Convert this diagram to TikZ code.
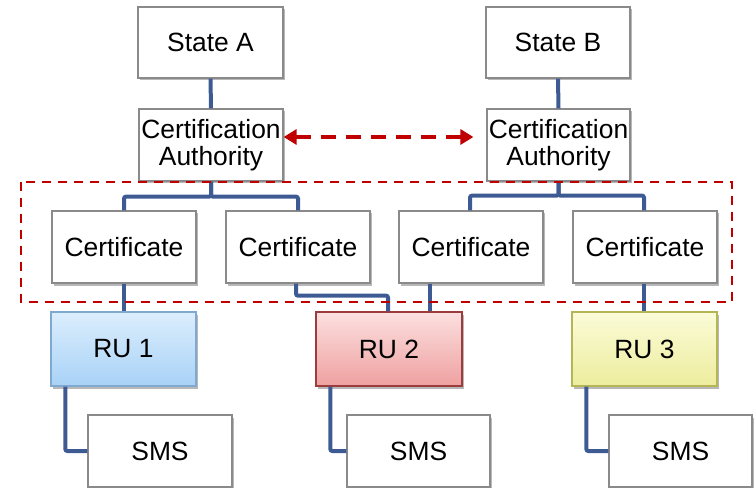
\documentclass[tikz,border=0pt]{standalone}
\usepackage{fontspec}
\setmainfont{Liberation Sans}
\usetikzlibrary{arrows.meta,shadows}
\definecolor{linkblue}{HTML}{3D5A93}
\definecolor{boxgray}{HTML}{8A8A8A}
\definecolor{dred}{HTML}{C00000}
\definecolor{ruAtop}{HTML}{DCEEFD}
\definecolor{ruAbot}{HTML}{A8D2F7}
\definecolor{ruAdraw}{HTML}{7FA9CF}
\definecolor{ruBtop}{HTML}{FCE0E0}
\definecolor{ruBbot}{HTML}{EFA0A0}
\definecolor{ruBdraw}{HTML}{9C3C3C}
\definecolor{ruCtop}{HTML}{FBFBD8}
\definecolor{ruCbot}{HTML}{EDED9E}
\definecolor{ruCdraw}{HTML}{B5B555}
\tikzset{
  box/.style={draw=boxgray, line width=1.3bp, fill=white, rectangle,
    minimum width=144bp, minimum height=72bp, inner sep=0pt, align=center,
    font=\fontsize{26.4bp}{27bp}\selectfont,
    drop shadow={shadow xshift=2bp, shadow yshift=-2.5bp, opacity=0.28, fill=black}},
  rubox/.style={box, minimum width=145bp, minimum height=74bp},
  link/.style={draw=linkblue, line width=4bp, rounded corners=2bp},
  grpframe/.style={draw=dred, line width=2.6bp, dash pattern=on 9bp off 7bp},
  peer/.style={draw=dred, line width=4bp, dash pattern=on 15bp off 10bp,
    {Triangle[length=13bp,width=15bp]}-{Triangle[length=13bp,width=15bp]}}
}
\begin{document}
\begin{tikzpicture}[x=1bp,y=-1bp]
\useasboundingbox (0,0) rectangle (756,488);
% connectors (behind boxes)
\node[box, minimum width=145bp, minimum height=71bp] (sA) at (210.5,42.5) {State A};
\node[box, minimum height=71bp] (sB) at (558,42.5) {State B};
\node[box] (caA) at (211,145) {Certification\\Authority};
\node[box, minimum width=143bp] (caB) at (558.5,145) {Certification\\Authority};
\node[box] (c1) at (124,247) {Certificate};
\node[box] (c2) at (298,247) {Certificate};
\node[box] (c3) at (471,247) {Certificate};
\node[box] (c4) at (645,247) {Certificate};
\node[rubox, draw=ruAdraw, top color=ruAtop, bottom color=ruAbot] (ru1) at (123.5,349) {RU 1};
\node[rubox, minimum width=146bp, draw=ruBdraw, top color=ruBtop, bottom color=ruBbot] (ru2) at (389,349) {RU 2};
\node[rubox, draw=ruCdraw, top color=ruCtop, bottom color=ruCbot] (ru3) at (644.5,349) {RU 3};
\node[box] (sms1) at (160,451) {SMS};
\node[box, minimum width=143bp] (sms2) at (418.5,451) {SMS};
\node[box, minimum width=143bp] (sms3) at (680.5,451) {SMS};
% links
\draw[link] (sA.south) -- (caA.north);
\draw[link] (sB.south) -- (caB.north);
\draw[link] (caA.south) -- ++(0,15) -| (c1.north);
\draw[link] (caA.south) -- ++(0,15) -| (c2.north);
\draw[link] (caB.south) -- ++(0,14) -| ([xshift=-1bp]c3.north);
\draw[link] (caB.south) -- ++(0,14) -| ([xshift=-1bp]c4.north);
\draw[link] (c1.south) -- (c1.south |- ru1.north);
\draw[link] ([xshift=-2bp]c2.south) -- ++(0,12) -| ([xshift=-1bp]ru2.north);
\draw[link] ([xshift=-41bp]c3.south) -- ([xshift=-41bp]c3.south |- ru2.north);
\draw[link] ([xshift=-1bp]c4.south) -- ([xshift=-1bp]c4.south |- ru3.north);
\draw[link] ([xshift=15bp]ru1.south west) |- (sms1.west);
\draw[link] ([xshift=15bp]ru2.south west) |- (sms2.west);
\draw[link] ([xshift=15bp]ru3.south west) |- (sms3.west);
% group frame
\draw[grpframe] (21,182) rectangle (732,302);
% peer arrow
\draw[peer] ([yshift=8bp]caA.east) -- ([yshift=8bp,xshift=-13bp]caB.west);
\end{tikzpicture}
\end{document}
